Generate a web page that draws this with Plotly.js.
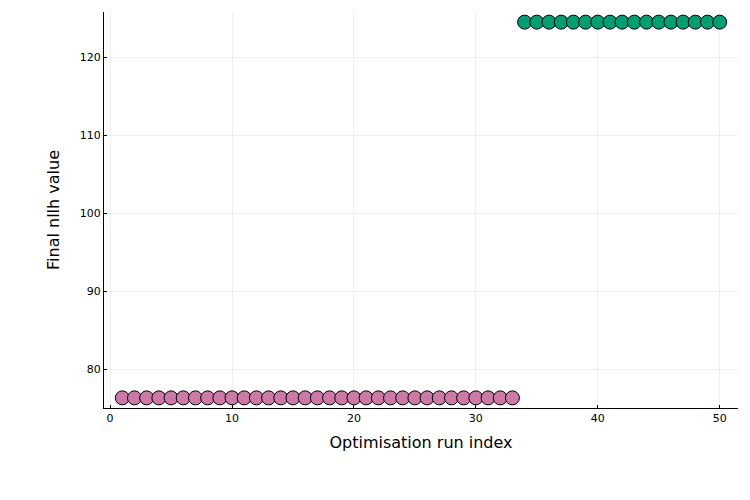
<!DOCTYPE html>
<html>
<head>
<meta charset="utf-8">
<script src="https://cdn.plot.ly/plotly-3.0.1.min.js"></script>
<style>
  body { margin: 0; background: #fff; }
  #chart { width: 750px; height: 500px; }
</style>
</head>
<body>
<div id="chart"></div>
<script>
// run index 1..33 landed at the lower optimum, 34..50 at the upper one
const lowRuns = [1,2,3,4,5,6,7,8,9,10,11,12,13,14,15,16,17,18,19,20,21,22,23,24,25,26,27,28,29,30,31,32,33];
const lowNllh = [76.3,76.3,76.3,76.3,76.3,76.3,76.3,76.3,76.3,76.3,76.3,76.3,76.3,76.3,76.3,76.3,76.3,76.3,76.3,76.3,76.3,76.3,76.3,76.3,76.3,76.3,76.3,76.3,76.3,76.3,76.3,76.3,76.3];
const highRuns = [34,35,36,37,38,39,40,41,42,43,44,45,46,47,48,49,50];
const highNllh = [124.5,124.5,124.5,124.5,124.5,124.5,124.5,124.5,124.5,124.5,124.5,124.5,124.5,124.5,124.5,124.5,124.5];

const xTicks = [0, 10, 20, 30, 40, 50];
const yTicks = [80, 90, 100, 110, 120];

function dots(x, y, color) {
  return {
    type: 'scatter',
    mode: 'markers',
    x: x,
    y: y,
    marker: { size: 14, color: color, line: { color: '#000', width: 1 } },
    showlegend: false,
    hoverinfo: 'x+y'
  };
}

const data = [
  dots(lowRuns, lowNllh, '#CC79A7'),
  dots(highRuns, highNllh, '#009E73')
];

const axisCommon = {
  showline: true,
  linecolor: '#000',
  linewidth: 1,
  mirror: false,
  zeroline: false,
  showgrid: true,
  gridcolor: 'rgba(0,0,0,0.06)',
  ticks: 'inside',
  ticklen: 3,
  tickcolor: '#000',
  tickfont: { size: 11, color: '#000' }
};

const layout = {
  width: 750,
  height: 500,
  margin: { l: 104, r: 12, t: 12, b: 92 },
  paper_bgcolor: '#fff',
  plot_bgcolor: '#fff',
  font: { family: 'DejaVu Sans, sans-serif', color: '#000' },
  xaxis: Object.assign({}, axisCommon, {
    range: [-0.5, 51.5],
    tickvals: xTicks,
    title: { text: 'Optimisation run index', font: { size: 16 }, standoff: 12 }
  }),
  yaxis: Object.assign({}, axisCommon, {
    range: [75, 125.8],
    tickvals: yTicks,
    title: { text: 'Final nllh value', font: { size: 16 }, standoff: 16 }
  })
};

Plotly.newPlot('chart', data, layout, { displayModeBar: false });
</script>
</body>
</html>
